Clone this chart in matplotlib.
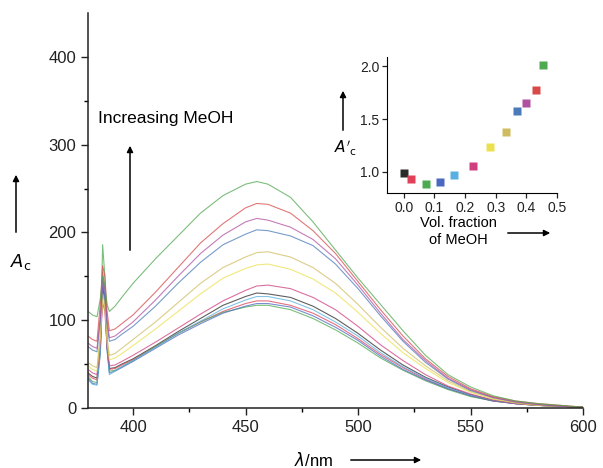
import matplotlib
matplotlib.use('Agg')
import matplotlib.pyplot as plt

plt.rcParams['font.family'] = ['Liberation Sans', 'DejaVu Sans']

# wavelengths (nm) shared by all spectra
wl = [380, 382, 384, 385.5, 386.5, 387.5, 388.5, 389.5, 392, 395, 400, 410, 420,
      430, 440, 450, 455, 460, 470, 480, 490, 500, 510, 520, 530, 540, 550, 560,
      570, 580, 590, 600]

# spectra, in order of increasing MeOH fraction
s01_black = [40, 36, 34, 70, 140, 120, 70, 45, 46, 50, 56, 71, 87, 102, 117, 127, 131, 130,
             126, 116, 102, 85, 66, 49, 35, 24, 15, 9, 5, 3, 2, 1]
s02_red = [38, 34, 32, 70, 155, 135, 72, 44, 45, 49, 55, 70, 85, 98, 110, 119, 122, 122,
           117, 108, 95, 79, 61, 46, 33, 22, 14, 8, 5, 3, 2, 1]
s03_green = [36, 30, 29, 75, 186, 150, 70, 42, 43, 47, 54, 70, 85, 98, 109, 115, 117, 117,
             112, 102, 89, 74, 57, 43, 31, 21, 13, 8, 5, 3, 2, 1]
s04_blue = [34, 28, 27, 62, 145, 125, 66, 40, 42, 46, 53, 68, 83, 96, 108, 116, 119, 119,
            115, 105, 92, 77, 59, 44, 32, 22, 14, 8, 5, 3, 2, 1]
s05_ltblue = [32, 27, 26, 65, 150, 130, 65, 38, 42, 47, 54, 69, 85, 99, 113, 123, 127, 127,
              122, 112, 98, 82, 63, 47, 34, 23, 15, 9, 5, 3, 2, 1]
s06_magenta = [44, 40, 38, 75, 120, 110, 68, 48, 49, 53, 60, 75, 91, 107, 122, 134, 139, 140,
               136, 126, 112, 93, 72, 54, 38, 25, 16, 9, 5, 3, 2, 1]
s07_yellow = [48, 44, 42, 80, 125, 115, 75, 55, 57, 62, 71, 90, 110, 130, 148, 159, 163, 164,
              158, 147, 131, 109, 85, 63, 45, 29, 18, 10, 6, 3, 2, 1]
s08_khaki = [52, 48, 46, 85, 130, 120, 80, 60, 62, 68, 78, 98, 120, 142, 160, 172, 177, 178,
             172, 160, 142, 118, 92, 68, 48, 31, 19, 11, 6, 3, 2, 1]
s09_blue = [70, 66, 64, 100, 138, 128, 95, 76, 78, 84, 93, 116, 142, 166, 186, 198, 203, 202,
            196, 185, 164, 136, 105, 76, 52, 33, 20, 12, 7, 4, 2, 1]
s10_purple = [74, 70, 68, 105, 145, 135, 100, 80, 82, 88, 98, 123, 150, 176, 197, 212, 216, 214,
              206, 192, 170, 140, 108, 78, 54, 34, 21, 12, 7, 4, 2, 1]
s11_red = [82, 78, 76, 120, 162, 150, 110, 88, 90, 96, 106, 132, 160, 188, 210, 228, 233, 232,
           222, 202, 176, 144, 112, 82, 56, 36, 22, 13, 8, 5, 3, 1]
s12_green = [110, 106, 104, 125, 150, 140, 118, 110, 116, 126, 142, 170, 196, 222, 242, 255, 258, 255,
             240, 212, 180, 148, 118, 88, 60, 38, 24, 14, 8, 5, 3, 1]

spectra = [s01_black, s02_red, s03_green, s04_blue, s05_ltblue, s06_magenta,
           s07_yellow, s08_khaki, s09_blue, s10_purple, s11_red, s12_green]
colores = ['#2a2a2a', '#e0405a', '#4caa50', '#4a68c0', '#58b0e0', '#d04080',
           '#ece050', '#d0bc60', '#4a7ab8', '#b050a0', '#d84a4a', '#50a850']

# inset: relative intensity vs. MeOH volume fraction
frac_meoh = [0.0, 0.023, 0.072, 0.119, 0.163, 0.225, 0.28, 0.334, 0.369, 0.40, 0.43, 0.454]
a_rel = [0.99, 0.93, 0.89, 0.90, 0.97, 1.06, 1.24, 1.38, 1.58, 1.65, 1.78, 2.01]

W, H = 603, 468
fig = plt.figure(figsize=(W / 100, H / 100), dpi=100)

# main axes
ax = fig.add_axes([88 / W, 1 - 408 / H, 495 / W, 395 / H])
for s, c in zip(spectra, colores):
    ax.plot(wl, s, color=c, lw=0.8, alpha=0.75)
ax.set_xlim(380, 600)
ax.set_ylim(0, 450)
ax.set_xticks([400, 450, 500, 550, 600])
ax.set_xticks([425, 475, 525, 575], minor=True)
ax.set_yticks([0, 100, 200, 300, 400])
ax.set_yticks([50, 150, 250, 350], minor=True)
ax.tick_params(which='major', direction='out', length=5, width=1, labelsize=12, colors='#222222')
ax.tick_params(which='minor', direction='out', length=3, width=1)
ax.spines['top'].set_visible(False)
ax.spines['right'].set_visible(False)
for sp in ['left', 'bottom']:
    ax.spines[sp].set_linewidth(1.1)
    ax.spines[sp].set_color('#222222')

# annotations in pixel-like figure coords
def fx(x):
    return x / W

def fy(y):
    return 1 - y / H

arrow = dict(arrowstyle='-|>', color='black', lw=1.1, mutation_scale=9)
fig.text(fx(98), fy(118), 'Increasing MeOH', fontsize=12.5, va='center', ha='left')
ax.annotate('', xy=(fx(130), fy(143)), xytext=(fx(130), fy(253)),
            xycoords='figure fraction', textcoords='figure fraction', arrowprops=arrow)

ax.annotate('', xy=(fx(16), fy(172)), xytext=(fx(16), fy(235)),
            xycoords='figure fraction', textcoords='figure fraction', arrowprops=arrow)
fig.text(fx(21), fy(262), r'$A_\mathrm{c}$', fontsize=13, ha='center', va='center')

fig.text(fx(314), fy(460), r'$\lambda$/nm', fontsize=12, ha='center', va='center')
ax.annotate('', xy=(fx(424), fy(460)), xytext=(fx(348), fy(460)),
            xycoords='figure fraction', textcoords='figure fraction', arrowprops=arrow)

# inset
axi = fig.add_axes([387 / W, 1 - 193 / H, 170 / W, 136 / H])
for x, y, c in zip(frac_meoh, a_rel, colores):
    axi.plot(x, y, 's', color=c, ms=5.5, mec='none')
axi.set_xlim(-0.055, 0.5)
axi.set_ylim(0.8, 2.09)
axi.set_xticks([0.0, 0.1, 0.2, 0.3, 0.4, 0.5])
axi.set_xticklabels(['0.0', '0.1', '0.2', '0.3', '0.4', '0.5'])
axi.set_yticks([1.0, 1.5, 2.0])
axi.set_yticklabels(['1.0', '1.5', '2.0'])
axi.tick_params(direction='out', length=3.5, width=0.9, labelsize=10, colors='#222222', pad=2)
axi.spines['top'].set_visible(False)
axi.spines['right'].set_visible(False)
axi.patch.set_alpha(0)

ax.annotate('', xy=(fx(343), fy(88)), xytext=(fx(343), fy(133)),
            xycoords='figure fraction', textcoords='figure fraction', arrowprops=arrow)
fig.text(fx(346), fy(148), r"$A'_\mathrm{c}$", fontsize=11, ha='center', va='center')
fig.text(fx(458), fy(223), 'Vol. fraction', fontsize=10.5, ha='center', va='center')
fig.text(fx(458), fy(240), 'of MeOH', fontsize=10.5, ha='center', va='center')
ax.annotate('', xy=(fx(553), fy(233)), xytext=(fx(505), fy(233)),
            xycoords='figure fraction', textcoords='figure fraction', arrowprops=arrow)

fig.savefig('out.png', dpi=100)
